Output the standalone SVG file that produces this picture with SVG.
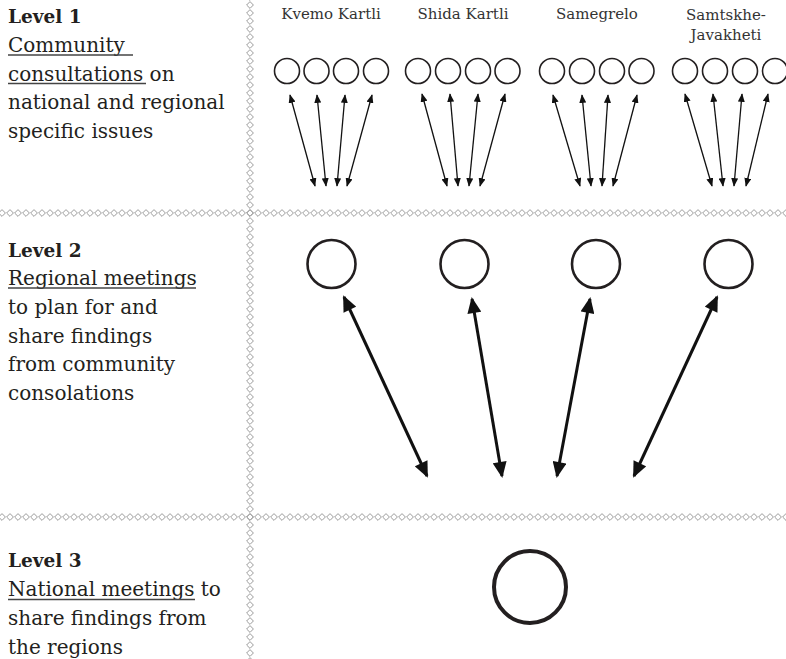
<svg xmlns="http://www.w3.org/2000/svg" width="786" height="659" viewBox="0 0 786 659">
<style>
.t{font-family:"DejaVu Serif","Liberation Serif",serif;font-size:20px;fill:#231f20}
.b{font-weight:bold;font-size:18.5px}
.r{font-family:"DejaVu Serif","Liberation Serif",serif;font-size:15px;fill:#333;text-anchor:middle}
.ul{stroke:#444;stroke-width:1.5}
.sc{fill:#fff;stroke:#231f20;stroke-width:1.6}
.mc{fill:#fff;stroke:#231f20;stroke-width:2.6}
.lc{fill:#fff;stroke:#231f20;stroke-width:4}
.sa{stroke:#111;stroke-width:1.3;fill:none;marker-start:url(#ah);marker-end:url(#ah)}
.la{stroke:#111;stroke-width:3;fill:none;marker-start:url(#AH);marker-end:url(#AH)}
</style>
<defs>
<pattern id="dia" patternUnits="userSpaceOnUse" x="246" y="209" width="8" height="8">
<path d="M4,0.6 L7.4,4 L4,7.4 L0.6,4 Z" fill="none" stroke="#999" stroke-width="1"/>
</pattern>
<marker id="ah" markerUnits="userSpaceOnUse" viewBox="0 0 10 8" refX="9" refY="4" markerWidth="9" markerHeight="7" orient="auto-start-reverse">
<path d="M0,0 L10,4 L0,8 Z" fill="#111"/>
</marker>
<marker id="AH" markerUnits="userSpaceOnUse" viewBox="0 0 16 14" refX="14" refY="7" markerWidth="17" markerHeight="14" orient="auto-start-reverse">
<path d="M0,0 L16,7 L0,14 Z" fill="#111"/>
</marker>
</defs>

<g id="dividers">
<rect x="0" y="209" width="786" height="8" fill="url(#dia)"/>
<rect x="0" y="513" width="786" height="8" fill="url(#dia)"/>
<rect x="246" y="0" width="8" height="659" fill="url(#dia)"/>
</g>

<g id="level1-text">
<text class="t b" x="8" y="23">Level 1</text>
<text class="t" x="8" y="52">Community</text>
<line class="ul" x1="8" y1="55" x2="133" y2="55"/>
<text class="t" x="8" y="80.5">consultations on</text>
<line class="ul" x1="8" y1="83.5" x2="146" y2="83.5"/>
<text class="t" x="8" y="109">national and regional</text>
<text class="t" x="8" y="137.5">specific issues</text>
</g>

<g id="level2-text">
<text class="t b" x="8" y="256.5">Level 2</text>
<text class="t" x="8" y="285">Regional meetings</text>
<line class="ul" x1="8" y1="288" x2="196" y2="288"/>
<text class="t" x="8" y="314">to plan for and</text>
<text class="t" x="8" y="342.5">share findings</text>
<text class="t" x="8" y="371">from community</text>
<text class="t" x="8" y="400">consolations</text>
</g>

<g id="level3-text">
<text class="t b" x="8" y="567">Level 3</text>
<text class="t" x="8" y="596">National meetings to</text>
<line class="ul" x1="8" y1="599.5" x2="195" y2="599.5"/>
<text class="t" x="8" y="625">share findings from</text>
<text class="t" x="8" y="654">the regions</text>
</g>

<g id="region-kvemo-kartli">
<text class="r" x="331" y="19">Kvemo Kartli</text>
<circle class="sc" cx="287" cy="71" r="12.5"/>
<circle class="sc" cx="316.5" cy="71" r="12.5"/>
<circle class="sc" cx="346" cy="71" r="12.5"/>
<circle class="sc" cx="376" cy="71" r="12.5"/>
</g>
<g id="region-shida-kartli">
<text class="r" x="463" y="19">Shida Kartli</text>
<circle class="sc" cx="418" cy="71" r="12.5"/>
<circle class="sc" cx="448" cy="71" r="12.5"/>
<circle class="sc" cx="478" cy="71" r="12.5"/>
<circle class="sc" cx="507.5" cy="71" r="12.5"/>
</g>
<g id="region-samegrelo">
<text class="r" x="597" y="19">Samegrelo</text>
<circle class="sc" cx="552" cy="71" r="12.5"/>
<circle class="sc" cx="582" cy="71" r="12.5"/>
<circle class="sc" cx="612" cy="71" r="12.5"/>
<circle class="sc" cx="641.5" cy="71" r="12.5"/>
</g>
<g id="region-samtskhe-javakheti">
<text class="r" x="726" y="20">Samtskhe-</text>
<text class="r" x="726" y="40">Javakheti</text>
<circle class="sc" cx="685" cy="71" r="12.5"/>
<circle class="sc" cx="715" cy="71" r="12.5"/>
<circle class="sc" cx="745" cy="71" r="12.5"/>
<circle class="sc" cx="775" cy="71" r="12.5"/>
</g>

<g id="regional-meetings">
<circle id="rm1" class="mc" cx="331.5" cy="264" r="24"/>
<circle id="rm2" class="mc" cx="464.5" cy="264" r="24"/>
<circle id="rm3" class="mc" cx="596" cy="264" r="24"/>
<circle id="rm4" class="mc" cx="728.5" cy="264" r="24"/>
</g>

<g id="national-meeting">
<circle class="lc" cx="530" cy="587" r="36"/>
</g>

<g id="connectors">
<line class="sa" x1="290" y1="95" x2="315" y2="186"/>
<line class="sa" x1="317" y1="95" x2="326" y2="186"/>
<line class="sa" x1="345" y1="95" x2="337" y2="186"/>
<line class="sa" x1="372" y1="95" x2="347" y2="186"/>

<line class="sa" x1="422" y1="94" x2="447" y2="186"/>
<line class="sa" x1="450" y1="94" x2="458" y2="186"/>
<line class="sa" x1="478" y1="94" x2="469" y2="186"/>
<line class="sa" x1="505" y1="94" x2="480" y2="186"/>

<line class="sa" x1="553" y1="95" x2="580" y2="186"/>
<line class="sa" x1="582" y1="95" x2="591" y2="186"/>
<line class="sa" x1="608" y1="95" x2="602" y2="186"/>
<line class="sa" x1="637" y1="95" x2="613" y2="186"/>

<line class="sa" x1="685" y1="94" x2="712" y2="186"/>
<line class="sa" x1="713" y1="94" x2="723" y2="186"/>
<line class="sa" x1="742" y1="94" x2="734" y2="186"/>
<line class="sa" x1="768" y1="94" x2="746" y2="186"/>

<line class="la" x1="344" y1="297" x2="427" y2="476"/>
<line class="la" x1="472" y1="299" x2="502" y2="476"/>
<line class="la" x1="590" y1="299" x2="557" y2="476"/>
<line class="la" x1="717" y1="297" x2="634" y2="476"/>
</g>
</svg>
